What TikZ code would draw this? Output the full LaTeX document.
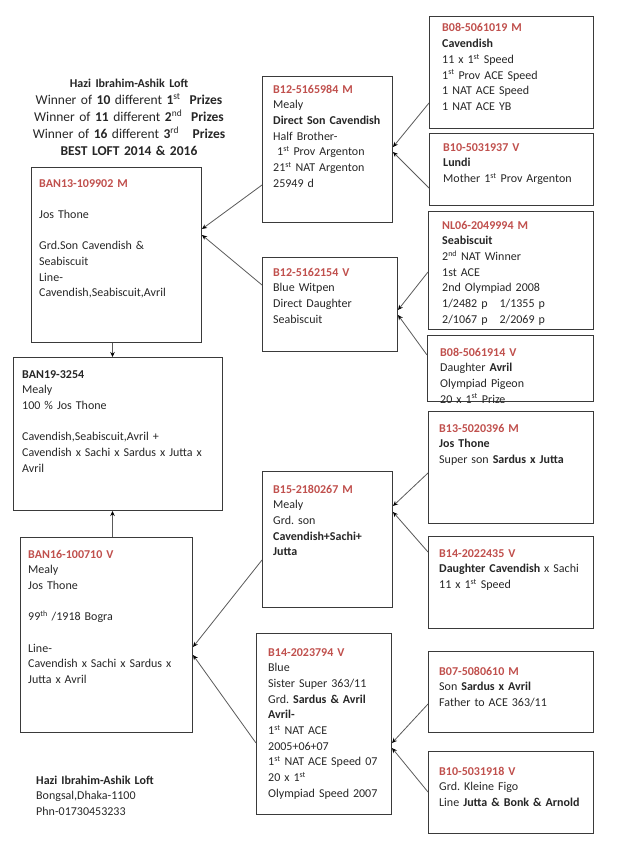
\documentclass[tikz,border=0pt]{standalone}
\usepackage{fontspec}
\setmainfont{Carlito}
\frenchspacing
\usetikzlibrary{positioning, arrows.meta}
\definecolor{idred}{HTML}{C0504D}
\definecolor{boxgray}{HTML}{3A3A3A}
\definecolor{linkgray}{HTML}{5A5A5A}
\definecolor{txtgray}{HTML}{262626}
\tikzset{
  pbox/.style={draw=boxgray, line width=1pt, anchor=north west, inner sep=0pt},
  ptxt/.style={anchor=base west, inner sep=0pt, align=left, text width=230pt,
    text=txtgray, font=\fontsize{12}{15.7}\selectfont},
  link/.style={draw=linkgray, line width=0.8pt, -{Stealth[length=5pt,width=4.5pt,color=black]}}
}
\newcommand{\pid}[1]{{\color{idred}\bfseries #1}}
\newcommand{\sups}[1]{\textsuperscript{#1}}

\begin{document}
\begin{tikzpicture}[x=1pt, y=-1pt]
\useasboundingbox (0,0) rectangle (621,867);

% header and footer
\node[anchor=base, align=center, text width=220pt, inner sep=0pt, text=txtgray, font=\fontsize{13.5}{16.8}\selectfont] (head) at (129,88)
  {{\fontsize{12}{16.8}\selectfont\bfseries Hazi Ibrahim-Ashik Loft}\\
   Winner of \textbf{10} different \textbf{1}\sups{st}\ \ \textbf{Prizes}\\
   Winner of \textbf{11} different \textbf{2}\sups{nd}\ \ \textbf{Prizes}\\
   Winner of \textbf{16} different \textbf{3}\sups{rd}\ \ \ \textbf{Prizes}\\
   \textbf{BEST LOFT 2014 \& 2016}};
\node[ptxt] (foot) at (36,784)
  {\textbf{Hazi Ibrahim-Ashik Loft}\\ Bongsal,Dhaka-1100\\ Phn-01730453233};

% left column
\node[pbox, minimum width=170pt, minimum height=175pt] (ban13) at (31,167) {};
\node[ptxt] (ban13t) at ([shift={(8,20)}]ban13.north west)
  {\pid{BAN13-109902 M}\\[\baselineskip] Jos Thone\\[\baselineskip] Grd.Son Cavendish \&\\ Seabiscuit\\ Line-\\ Cavendish,Seabiscuit,Avril};

\node[pbox, minimum width=209pt, minimum height=153pt] (ban19) at (13,357) {};
\node[ptxt] (ban19t) at ([shift={(9,21)}]ban19.north west)
  {\textbf{BAN19-3254}\\ Mealy\\ 100 \% Jos Thone\\[\baselineskip] Cavendish,Seabiscuit,Avril +\\ Cavendish x Sachi x Sardus x Jutta x\\ Avril};

\node[pbox, minimum width=172pt, minimum height=195pt] (ban16) at (20,537) {};
\node[ptxt] (ban16t) at ([shift={(8,21)}]ban16.north west)
  {\pid{BAN16-100710 V}\\ Mealy\\ Jos Thone\\[\baselineskip] 99\sups{th} /1918 Bogra\\[\baselineskip] Line-\\ Cavendish x Sachi x Sardus x\\ Jutta x Avril};

% middle column
\node[pbox, minimum width=130pt, minimum height=146pt] (b12a) at (262,76) {};
\node[ptxt] (b12at) at ([shift={(11,17)}]b12a.north west)
  {\pid{B12-5165984 M}\\ Mealy\\ \textbf{Direct Son Cavendish}\\ Half Brother-\\ \ 1\sups{st} Prov Argenton\\ 21\sups{st} NAT Argenton\\ 25949 d};

\node[pbox, minimum width=135pt, minimum height=94pt] (b12b) at (262,257) {};
\node[ptxt] (b12bt) at ([shift={(11,19)}]b12b.north west)
  {\pid{B12-5162154 V}\\ Blue Witpen\\ Direct Daughter\\ Seabiscuit};

\node[pbox, minimum width=130pt, minimum height=136pt] (b15) at (262,471) {};
\node[ptxt] (b15t) at ([shift={(11,22)}]b15.north west)
  {\pid{B15-2180267 M}\\ Mealy\\ Grd. son\\ \textbf{Cavendish+Sachi+}\\ \textbf{Jutta}};

\node[pbox, minimum width=135pt, minimum height=181pt] (b14b) at (256,633) {};
\node[ptxt] (b14bt) at ([shift={(12,23)}]b14b.north west)
  {\pid{B14-2023794 V}\\ Blue\\ Sister Super 363/11\\ Grd. \textbf{Sardus \& Avril}\\ \textbf{Avril-}\\ 1\sups{st} NAT ACE\\ 2005+06+07\\ 1\sups{st} NAT ACE Speed 07\\ 20 x 1\sups{st}\\ Olympiad Speed 2007};

% right column
\node[pbox, minimum width=164pt, minimum height=112pt] (b08a) at (429,16) {};
\node[ptxt] (b08at) at ([shift={(13,16)}]b08a.north west)
  {\pid{B08-5061019 M}\\ \textbf{Cavendish}\\ 11 x 1\sups{st} Speed\\ 1\sups{st} Prov ACE Speed\\ 1 NAT ACE Speed\\ 1 NAT ACE YB};

\node[pbox, minimum width=164pt, minimum height=72pt] (b10a) at (429,133) {};
\node[ptxt] (b10at) at ([shift={(14,18)}]b10a.north west)
  {\pid{B10-5031937 V}\\ \textbf{Lundi}\\ Mother 1\sups{st} Prov Argenton};

\node[pbox, minimum width=165pt, minimum height=118pt] (nl06) at (428,211) {};
\node[ptxt] (nl06t) at ([shift={(14,18)}]nl06.north west)
  {\pid{NL06-2049994 M}\\ \textbf{Seabiscuit}\\ 2\sups{nd} NAT Winner\\ 1st ACE\\ 2nd Olympiad 2008\\ 1/2482 p\ \ \ 1/1355 p\\ 2/1067 p\ \ \ 2/2069 p};

\node[pbox, minimum width=166pt, minimum height=66pt] (b08b) at (427,335) {};
\begin{scope}
\clip (b08b.north west) rectangle (b08b.south east);
\node[ptxt] (b08bt) at ([shift={(13,21)}]b08b.north west)
  {\pid{B08-5061914 V}\\ Daughter \textbf{Avril}\\ Olympiad Pigeon\\ 20 x 1\sups{st} Prize};
\end{scope}

\node[pbox, minimum width=165pt, minimum height=112pt] (b13) at (428,411) {};
\node[ptxt] (b13t) at ([shift={(11,21)}]b13.north west)
  {\pid{B13-5020396 M}\\ \textbf{Jos Thone}\\ Super son \textbf{Sardus x Jutta}};

\node[pbox, minimum width=165pt, minimum height=92pt] (b14a) at (428,536) {};
\node[ptxt] (b14at) at ([shift={(11,21)}]b14a.north west)
  {\pid{B14-2022435 V}\\ \textbf{Daughter Cavendish} x Sachi\\ 11 x 1\sups{st} Speed};

\node[pbox, minimum width=165pt, minimum height=81pt] (b07) at (428,651) {};
\node[ptxt] (b07t) at ([shift={(11,24)}]b07.north west)
  {\pid{B07-5080610 M}\\ Son \textbf{Sardus x Avril}\\ Father to ACE 363/11};

\node[pbox, minimum width=165pt, minimum height=82pt] (b10b) at (428,751) {};
\node[ptxt] (b10bt) at ([shift={(11,24)}]b10b.north west)
  {\pid{B10-5031918 V}\\ Grd. Kleine Figo\\ Line \textbf{Jutta \& Bonk \& Arnold}};

% connectors
\draw[link] ([shift={(0,87)}]b08a.north west) -- ([shift={(0,71)}]b12a.north east);
\draw[link] ([shift={(0,55)}]b10a.north west) -- ([shift={(0,76)}]b12a.north east);
\draw[link] ([shift={(0,61)}]nl06.north west) -- ([shift={(0,53)}]b12b.north east);
\draw[link] ([shift={(0,20)}]b08b.north west) -- ([shift={(0,58)}]b12b.north east);
\draw[link] ([shift={(0,109)}]b12a.north west) -- ([shift={(0,62)}]ban13.north east);
\draw[link] ([shift={(0,28)}]b12b.north west) -- ([shift={(0,68)}]ban13.north east);
\draw[link] ([shift={(0,62)}]b13.north west) -- ([shift={(0,35)}]b15.north east);
\draw[link] ([shift={(0,16)}]b14a.north west) -- ([shift={(0,41)}]b15.north east);
\draw[link] ([shift={(0,53)}]b07.north west) -- ([shift={(0,110)}]b14b.north east);
\draw[link] ([shift={(0,41)}]b10b.north west) -- ([shift={(0,115)}]b14b.north east);
\draw[link] ([shift={(0,89)}]b15.north west) -- ([shift={(0,110)}]ban16.north east);
\draw[link] ([shift={(0,110)}]b14b.north west) -- ([shift={(0,118)}]ban16.north east);
\draw[link] ([shift={(-4,0)}]ban13.south) -- ([shift={(-4,0)}]ban13.south |- ban19.north);
\draw[link] ([shift={(6,0)}]ban16.north) -- ([shift={(6,0)}]ban16.north |- ban19.south);
\end{tikzpicture}
\end{document}
